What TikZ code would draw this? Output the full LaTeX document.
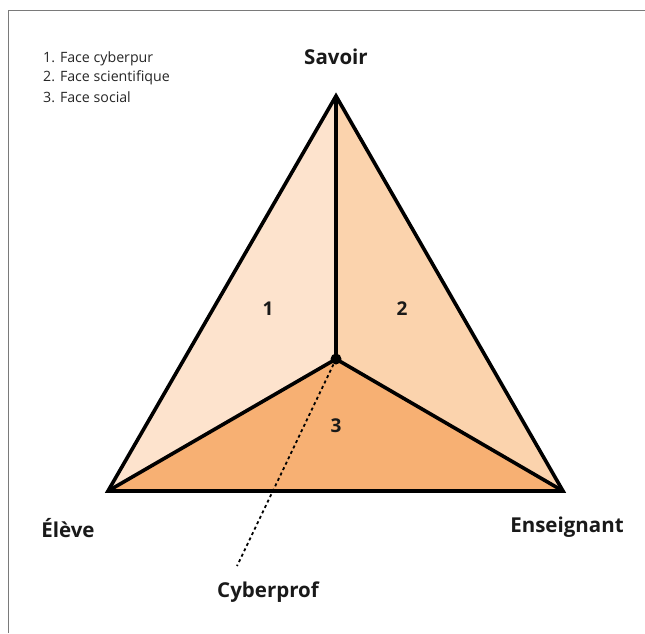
\documentclass[tikz,border=0pt]{standalone}
\usepackage{fontspec}
\setmainfont{Open Sans}
\definecolor{faceA}{HTML}{FDE3CD}
\definecolor{faceB}{HTML}{FBD3AD}
\definecolor{faceC}{HTML}{F7B073}
\definecolor{framegray}{HTML}{7A7A7A}
\begin{document}
\begin{tikzpicture}[x=1pt,y=-1pt,
  edge/.style={line width=3.6pt,line join=miter,black},
  vlabel/.style={font=\fontsize{20.5}{24}\selectfont\bfseries,text=black!90},
  num/.style={font=\fontsize{19}{22}\selectfont\bfseries,text=black!90},
  legend/.style={font=\fontsize{14.2}{19}\selectfont,text=black!85,align=left,anchor=west,inner sep=0pt}]
\useasboundingbox (0,0) rectangle (645,633);
\draw[framegray,line width=1.5pt] (8.5,633) -- (8.5,10.7) -- (645,10.7);
\coordinate (S) at (336,96);
\coordinate (L) at (108,491);
\coordinate (R) at (563,491);
\coordinate (C) at (336,359);
\coordinate (D) at (237,566);
\fill[faceA] (S) -- (C) -- (L) -- cycle;
\fill[faceB] (S) -- (C) -- (R) -- cycle;
\fill[faceC] (L) -- (C) -- (R) -- cycle;
\draw[edge] (S) -- (L) -- (R) -- cycle;
\draw[edge] (S) -- (C) (L) -- (C) -- (R);
\draw[line width=1.8pt,dash pattern=on 3pt off 3pt] (C) -- (D);
\fill (C) circle (5.5);
\node[legend] (leg1) at (43,59) {1. Face cyberpur};
\node[legend] (leg2) at (43,78) {2. Face scientifique};
\node[legend] (leg3) at (43,97) {3. Face social};
\node[vlabel] (ls) at (336,57) {Savoir};
\node[vlabel] (ll) at (68,528) {Élève};
\node[vlabel] (lr) at (567,527) {Enseignant};
\node[vlabel] (lc) at (268,592) {Cyberprof};
\node[num] (n1) at (268,309) {1};
\node[num] (n2) at (402,309) {2};
\node[num] (n3) at (336,426) {3};
\end{tikzpicture}
\end{document}
